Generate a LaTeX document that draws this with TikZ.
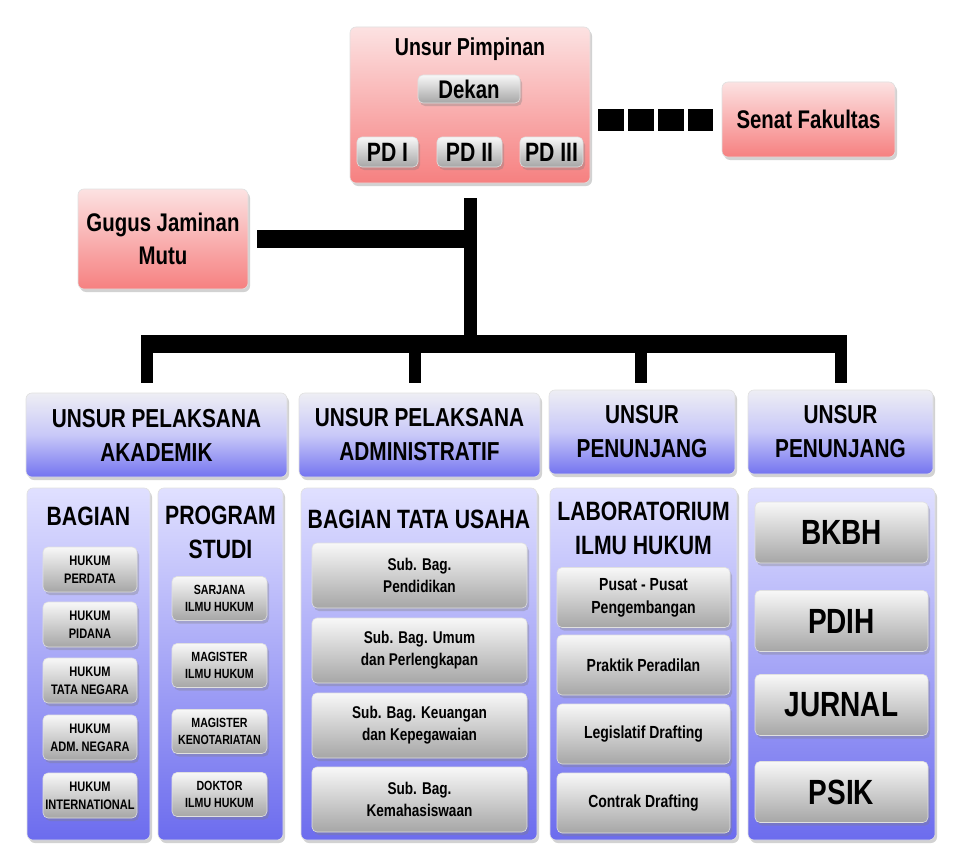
\documentclass[tikz,border=0pt]{standalone}
\usepackage{fontspec}
\setmainfont{Liberation Sans}[FakeStretch=0.8]
\usetikzlibrary{positioning}
\usetikzlibrary{shadows}

\definecolor{pinktop}{RGB}{252,226,226}
\definecolor{pinkbot}{RGB}{246,128,128}
\definecolor{headtop}{RGB}{238,238,244}
\definecolor{headmid}{RGB}{200,200,248}
\definecolor{headbot}{RGB}{116,116,240}
\definecolor{paneltop}{RGB}{224,224,255}
\definecolor{panelbot}{RGB}{108,108,238}
\definecolor{btntop}{RGB}{248,248,248}
\definecolor{btnbot}{RGB}{166,166,166}

\newcommand{\txtsize}[2]{\fontsize{#1}{#2}\selectfont}

\tikzset{
  box/.style={rounded corners=6pt, inner sep=0pt, align=center, draw=black!12, line width=0.6pt,
              drop shadow={shadow xshift=2pt, shadow yshift=-3pt, opacity=0.35}},
  redbox/.style={box, top color=pinktop, bottom color=pinkbot},
  headbox/.style={box, top color=headtop, bottom color=headbot, middle color=headmid,
                  font=\txtsize{26}{34}\bfseries},
  panel/.style={box, top color=paneltop, bottom color=panelbot},
  btn/.style={box, rounded corners=5pt, top color=btntop, bottom color=btnbot},
  ttl/.style={align=center, inner sep=0pt, font=\txtsize{26.5}{34}\bfseries},
  bar/.style={line width=18pt},
  trunk/.style={line width=13pt},
  drop/.style={line width=12pt},
}

\begin{document}
\begin{tikzpicture}[x=1pt,y=-1pt]

        \fill[white] (0,0) rectangle (956,867);
        \useasboundingbox (0,0) rectangle (956,867);

        % Pimpinan and the two boxes beside it
        \node[redbox, minimum width=240, minimum height=156] (pimpinan) at (470,105) {};
        \node[ttl, font=\txtsize{24.5}{28}\bfseries] (pimtitle) at (470,49) {Unsur Pimpinan};
        \node[btn, minimum width=102, minimum height=28, font=\txtsize{25.5}{28}\bfseries] (dekan) at (469,89) {Dekan};
        \node[btn, minimum width=61, minimum height=30, font=\txtsize{26.5}{28}\bfseries] (pd1) at (387.5,152) {PD I};
        \node[btn, minimum width=65, minimum height=30, font=\txtsize{26.5}{28}\bfseries] (pd2) at (469.5,152) {PD II};
        \node[btn, minimum width=63, minimum height=30, font=\txtsize{26.5}{28}\bfseries] (pd3) at (551.5,152) {PD III};

        \node[redbox, minimum width=173, minimum height=75, font=\txtsize{25.5}{28}\bfseries] (senat) at (808.5,119.5) {Senat Fakultas};
        \node[redbox, minimum width=170, minimum height=100, font=\txtsize{25.5}{33}\bfseries] (gugus) at (163,239) {Gugus Jaminan\\Mutu};

        % Headers
        \node[headbox, minimum width=261, minimum height=84] (h1) at (156.5,435) {UNSUR PELAKSANA\\AKADEMIK};
        \node[headbox, minimum width=241, minimum height=84] (h2) at (419.5,435) {UNSUR PELAKSANA\\ADMINISTRATIF};
        \node[headbox, minimum width=186, minimum height=84] (h3) at (642,432) {UNSUR\\PENUNJANG};
        \node[headbox, minimum width=185, minimum height=84] (h4) at (840.5,432) {UNSUR\\PENUNJANG};

        % Panels
        \node[panel, minimum width=123, minimum height=352] (bagian) at (88.5,664) {};
        \node[panel, minimum width=125, minimum height=352] (prodi) at (220.5,664) {};
        \node[panel, minimum width=236, minimum height=352] (tatausaha) at (419,664) {};
        \node[panel, minimum width=187, minimum height=352] (lab) at (643.5,664) {};
        \node[panel, minimum width=187, minimum height=352] (lain) at (841.5,664) {};

        \node[ttl] (bagiantitle) at (88.5,516) {BAGIAN};
        \node[ttl] (proditile) at (220.5,532) {PROGRAM\\STUDI};
        \node[ttl] (tutitle) at (419,519) {BAGIAN TATA USAHA};
        \node[ttl] (labtitle) at (643.5,528) {LABORATORIUM\\ILMU HUKUM};

        % Bagian
        \foreach \y/\name/\txt in {569.5/hp/PERDATA, 624.5/hpi/PIDANA, 680.5/htn/TATA NEGARA,
                                   737.5/han/ADM. NEGARA, 795.5/hi/INTERNATIONAL}
          \node[btn, minimum width=94, minimum height=45, font=\txtsize{13.8}{18}\bfseries] (\name) at (90,\y)
            {HUKUM\\\txt};

        % Program studi
        \foreach \y/\name/\txt in {598.5/sih/SARJANA\\ILMU HUKUM, 665.5/mih/MAGISTER\\ILMU HUKUM,
                                   731.5/mkn/MAGISTER\\KENOTARIATAN, 794.5/dih/DOKTOR\\ILMU HUKUM}
          \node[btn, minimum width=95, minimum height=44, font=\txtsize{13.3}{17}\bfseries] (\name) at (219.5,\y)
            {\txt};

        % Tata usaha
        \node[btn, minimum width=215, minimum height=65, font=\txtsize{17}{22}\bfseries] (sbp) at (419.5,575.5) {Sub. Bag.\\Pendidikan};
        \node[btn, minimum width=215, minimum height=65, font=\txtsize{17}{22}\bfseries] (sbu) at (419.5,650.5) {Sub. Bag. Umum\\dan Perlengkapan};
        \node[btn, minimum width=215, minimum height=65, font=\txtsize{17}{22}\bfseries] (sbk) at (419.5,725.5) {Sub. Bag. Keuangan\\dan Kepegawaian};
        \node[btn, minimum width=215, minimum height=65, font=\txtsize{17}{22}\bfseries] (sbm) at (419.5,799.5) {Sub. Bag.\\Kemahasiswaan};

        % Laboratorium
        \node[btn, minimum width=173, minimum height=60, font=\txtsize{17.5}{23}\bfseries] (pusat) at (643.5,597.5) {Pusat - Pusat\\Pengembangan};
        \node[btn, minimum width=173, minimum height=60, font=\txtsize{17.5}{23}\bfseries] (praktik) at (643.5,665) {Praktik Peradilan};
        \node[btn, minimum width=173, minimum height=60, font=\txtsize{17.5}{23}\bfseries] (legis) at (643.5,734) {Legislatif Drafting};
        \node[btn, minimum width=173, minimum height=60, font=\txtsize{17.5}{23}\bfseries] (contrak) at (643.5,803) {Contrak Drafting};

        % Penunjang lain
        \foreach \y/\name/\txt in {532.5/bkbh/BKBH, 621/pdih/PDIH, 705/jurnal/JURNAL, 792/psik/PSIK}
          \node[btn, minimum width=173, minimum height=61, font=\txtsize{35}{38}\bfseries] (\name) at (841.5,\y) {\txt};

        % Lines
        \coordinate (busl) at (141,344);
        \coordinate (busr) at (847,344);
        \coordinate (d1) at (147,393);
        \coordinate (d2) at (415,393);
        \coordinate (d3) at (641,393);
        \coordinate (d4) at (841,393);

        \draw[line width=22pt, dash pattern=on 26pt off 4pt, shorten <=8pt, shorten >=9pt]
          (pimpinan.east |- senat.west) -- (senat.west);
        \draw[trunk, shorten <=15pt] (pimpinan.south) -- (pimpinan.south |- busl);
        \draw[bar, shorten <=9pt] (gugus.east) -- (gugus.east -| pimpinan.south);
        \draw[bar] (busl) -- (busr);
        \foreach \d in {d1,d2,d3,d4}
          \draw[drop, shorten >=10pt] (\d |- busl) -- (\d);
    \end{tikzpicture}
\end{document}
